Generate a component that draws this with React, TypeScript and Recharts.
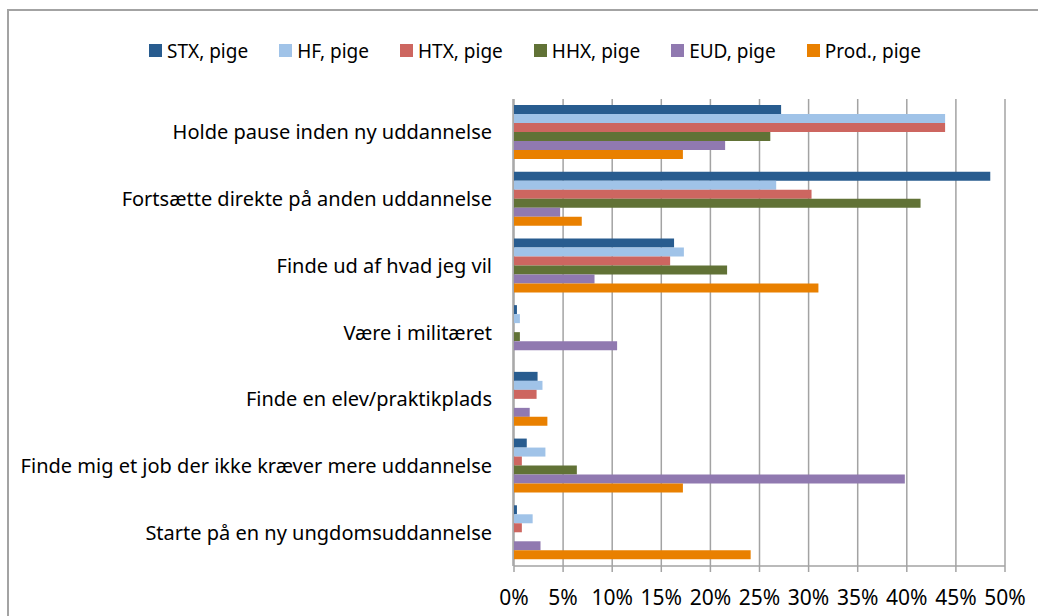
import React from 'react';
import { BarChart, Bar, XAxis, YAxis, CartesianGrid, Legend } from 'recharts';

const categories = [
  'Holde pause inden ny uddannelse',
  'Fortsætte direkte på anden uddannelse',
  'Finde ud af hvad jeg vil',
  'Være i militæret',
  'Finde en elev/praktikplads',
  'Finde mig et job der ikke kræver mere uddannelse',
  'Starte på en ny ungdomsuddannelse',
];

const stx = [27.2, 48.5, 16.3, 0.3, 2.4, 1.3, 0.3];
const hf = [43.9, 26.7, 17.3, 0.6, 2.9, 3.2, 1.9];
const htx = [43.9, 30.3, 15.9, 0, 2.3, 0.8, 0.8];
const hhx = [26.1, 41.4, 21.7, 0.6, 0, 6.4, 0];
const eud = [21.5, 4.7, 8.2, 10.5, 1.6, 39.8, 2.7];
const prod = [17.2, 6.9, 31.0, 0, 3.4, 17.2, 24.1];

const xTicks = [0, 5, 10, 15, 20, 25, 30, 35, 40, 45, 50];
const edgeTicks = [0, 1, 2, 3, 4, 5, 6, 7];

const series = [
  { key: 'stx', name: 'STX, pige', color: '#285c8f', values: stx },
  { key: 'hf', name: 'HF, pige', color: '#a0c3e8', values: hf },
  { key: 'htx', name: 'HTX, pige', color: '#cd6660', values: htx },
  { key: 'hhx', name: 'HHX, pige', color: '#617236', values: hhx },
  { key: 'eud', name: 'EUD, pige', color: '#9079b0', values: eud },
  { key: 'prod', name: 'Prod., pige', color: '#e98000', values: prod },
];

const data = categories.map((name, i) => {
  const row: Record<string, string | number> = { name };
  series.forEach((s) => {
    row[s.key] = s.values[i];
  });
  return row;
});

const font = '"Noto Sans", sans-serif';
const gray = '#a3a3a3';

// legend drawn from the series list so it keeps the original order
const renderLegend = () => (
  <div
    style={{
      display: 'flex',
      justifyContent: 'center',
      gap: 31,
      height: 25,
      fontFamily: font,
      fontSize: 19,
      color: '#000',
    }}
  >
    {series.map((s) => (
      <span key={s.key} style={{ display: 'flex', alignItems: 'center' }}>
        <span style={{ width: 13, height: 13, background: s.color, marginRight: 5 }} />
        {s.name}
      </span>
    ))}
  </div>
);

// single-line category label (the axis itself is narrow, so no wrapping)
const CategoryTick = (props: any) => {
  const { x, y, payload } = props;
  return (
    <text x={x} y={y} dy="0.35em" textAnchor="end" fill="#000" fontFamily={font} fontSize={20}>
      {payload.value}
    </text>
  );
};

export default function App() {
  return (
    <div style={{ position: 'absolute', left: 0, top: 0, width: 1038, height: 616, overflow: 'hidden', background: '#fff' }}>
      <div
        style={{
          position: 'absolute',
          left: 7,
          top: 9,
          width: 1100,
          height: 700,
          border: `2px solid ${gray}`,
        }}
      />
      <BarChart
        width={1038}
        height={616}
        data={data}
        layout="vertical"
        barCategoryGap={6}
        barGap={0}
        margin={{ top: 74, right: 33, left: 0, bottom: 20 }}
      >
        <CartesianGrid horizontal={false} stroke={gray} strokeWidth={1.5} />
        <XAxis
          type="number"
          domain={[0, 50]}
          ticks={xTicks}
          tickFormatter={(v) => `${v}%`}
          axisLine={{ stroke: gray, strokeWidth: 1.5 }}
          tickLine={{ stroke: gray, strokeWidth: 1.5 }}
          tickSize={6}
          tickMargin={18}
          height={30}
          tick={{ fill: '#000', fontFamily: font, fontSize: 21 }}
        />
        {/* boundary ticks between the categories; this axis sits outermost */}
        <YAxis
          yAxisId="edges"
          type="number"
          domain={[0, 7]}
          ticks={edgeTicks}
          tick={false}
          width={513}
          axisLine={{ stroke: gray, strokeWidth: 1.5 }}
          tickLine={{ stroke: gray, strokeWidth: 1.5 }}
          tickSize={7}
        />
        <YAxis
          type="category"
          dataKey="name"
          width={1}
          axisLine={false}
          tickLine={false}
          tickSize={0}
          tickMargin={22}
          tick={<CategoryTick />}
        />
        <Legend
          verticalAlign="top"
          content={renderLegend}
          wrapperStyle={{ top: 38, left: 60, width: 950 }}
        />
        {series.map((s) => (
          <Bar key={s.key} dataKey={s.key} name={s.name} fill={s.color} isAnimationActive={false} />
        ))}
      </BarChart>
    </div>
  );
}
